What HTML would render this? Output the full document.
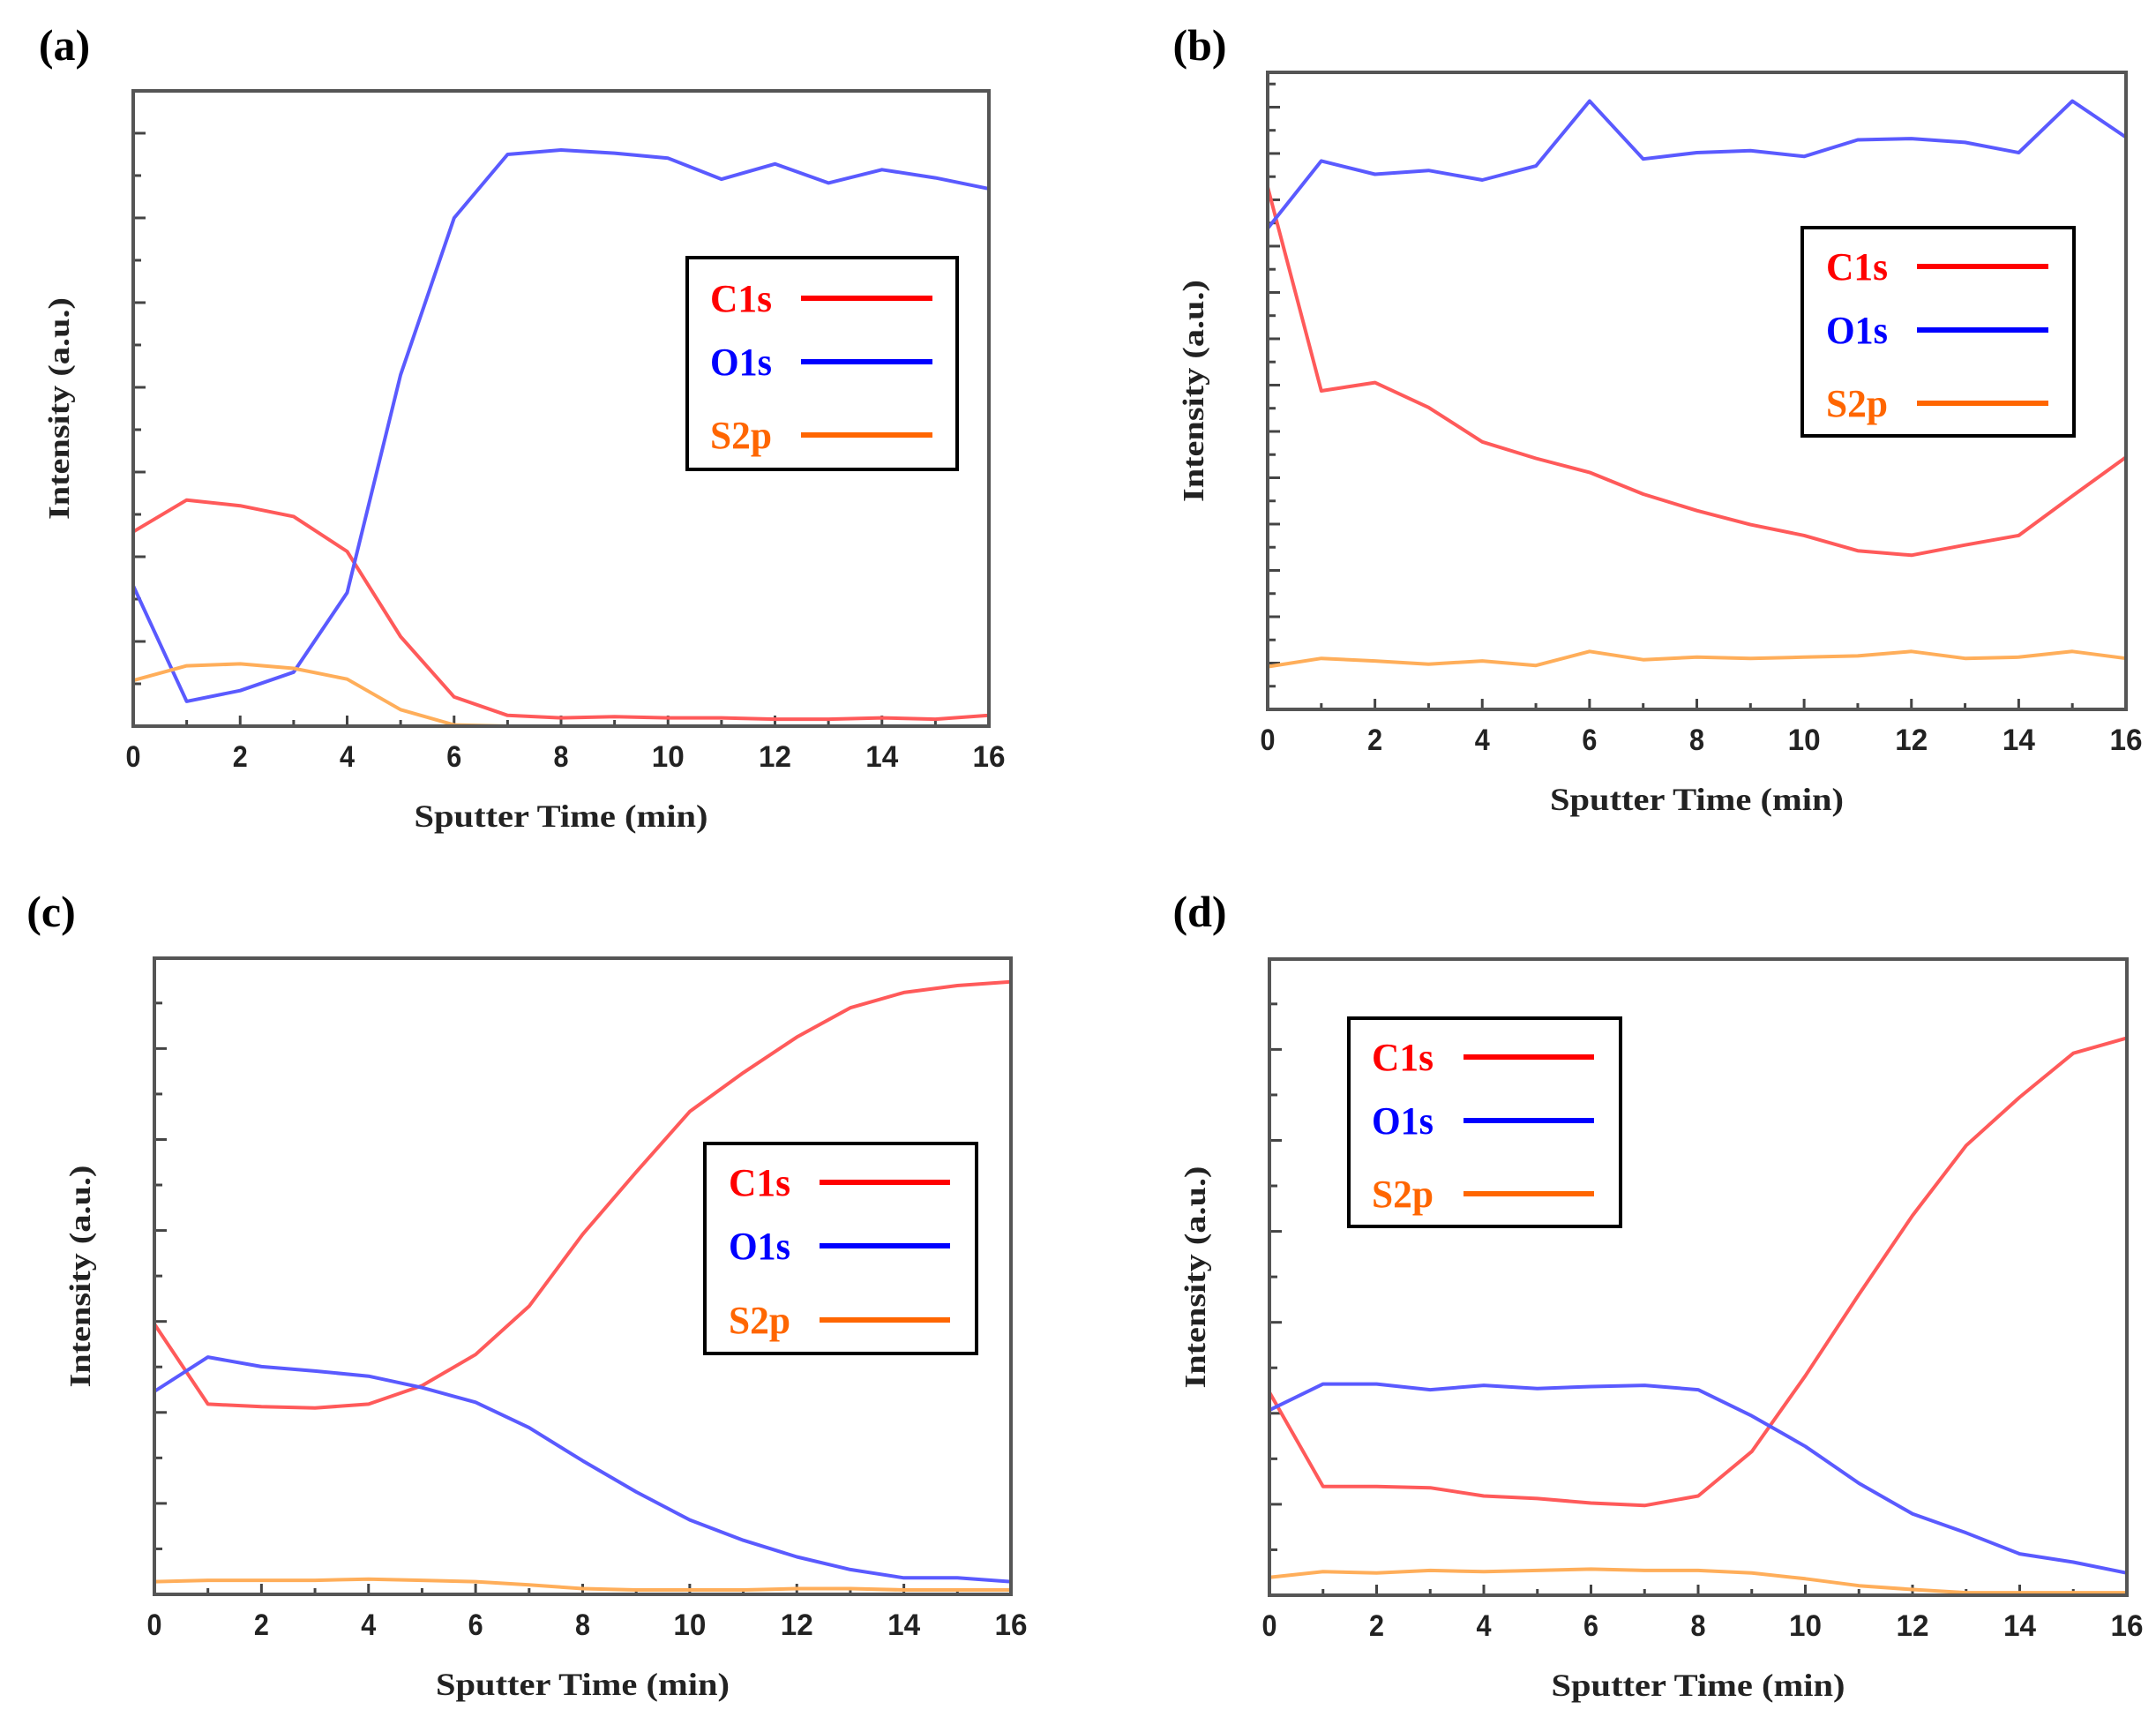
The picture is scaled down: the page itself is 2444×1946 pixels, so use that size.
<!DOCTYPE html>
<html><head><meta charset="utf-8"><style>
html,body{margin:0;padding:0;background:#fff;}
svg{display:block;}
</style></head><body>
<svg id="fig" width="2444" height="1946" viewBox="0 0 2444 1946" xmlns="http://www.w3.org/2000/svg"></svg>
<script>
const xTicks = [0,2,4,6,8,10,12,14,16];
const times = [0,1,2,3,4,5,6,7,8,9,10,11,12,13,14,15,16];
const seriesNames = ["C1s","O1s","S2p"];
// panel (a)
const aC1s = [30.6,35.6,34.7,33.0,27.5,14.1,4.6,1.7,1.3,1.5,1.3,1.3,1.1,1.1,1.3,1.1,1.7];
const aO1s = [22.1,3.9,5.6,8.5,21.0,55.3,80.0,90.0,90.7,90.2,89.4,86.1,88.5,85.5,87.6,86.3,84.6];
const aS2p = [7.2,9.5,9.8,9.1,7.4,2.6,0.2,0,0,0,0,0,0,0,0,0,0];
// panel (b)
const bC1s = [82.0,50.0,51.3,47.4,42.0,39.4,37.2,33.8,31.2,29.0,27.3,24.9,24.2,25.8,27.3,33.5,39.6];
const bO1s = [75.5,86.1,84.0,84.6,83.1,85.3,95.5,86.4,87.4,87.7,86.8,89.4,89.6,89.0,87.4,95.5,89.8];
const bS2p = [6.7,8.0,7.6,7.1,7.6,6.9,9.1,7.8,8.2,8.0,8.2,8.4,9.1,8.0,8.2,9.1,8.0];
// panel (c)
const cC1s = [42.5,29.9,29.5,29.3,29.9,32.8,37.7,45.3,56.6,66.4,75.9,82.0,87.6,92.2,94.6,95.7,96.3];
const cO1s = [31.9,37.3,35.8,35.1,34.3,32.5,30.2,26.2,21.0,16.1,11.7,8.5,5.9,3.9,2.6,2.6,2.0];
const cS2p = [2.0,2.2,2.2,2.2,2.4,2.2,2.0,1.5,0.9,0.7,0.7,0.7,0.9,0.9,0.7,0.7,0.7];
// panel (d)
const dC1s = [31.9,17.1,17.1,16.9,15.6,15.2,14.5,14.1,15.6,22.6,34.5,47.3,59.7,70.7,78.3,85.2,87.6];
const dO1s = [29.1,33.2,33.2,32.3,33.0,32.5,32.8,33.0,32.3,28.2,23.4,17.6,12.8,9.8,6.5,5.2,3.5];
const dS2p = [2.8,3.7,3.5,3.9,3.7,3.9,4.1,3.9,3.9,3.5,2.6,1.5,0.9,0.4,0.4,0.4,0.4];

const NS = "http://www.w3.org/2000/svg";
const svg = document.getElementById("fig");
function el(tag, attrs, parent){const e=document.createElementNS(NS,tag);for(const k in attrs)e.setAttribute(k,attrs[k]);(parent||svg).appendChild(e);return e;}

const lineColors = ["#ff5a5a","#5a5aff","#ffae5a"];
const legendColors = ["#ff0000","#0000ff","#ff6600"];

const panels = [
 {id:"a",label:"(a)",lx:73,ly:52,x0:151,x1:1121,y0:103,y1:823,step:6.667,data:[aC1s,aO1s,aS2p],
  leg:{x:779,y:292,w:306,h:240,rows:[338,410,493],tx:805,l0:908,l1:1057}},
 {id:"b",label:"(b)",lx:1360,ly:52,x0:1437,x1:2410,y0:82,y1:804,step:3.636,data:[bC1s,bO1s,bS2p],
  leg:{x:2043,y:258,w:308,h:236,rows:[302,374,457],tx:2070,l0:2173,l1:2322}},
 {id:"c",label:"(c)",lx:58,ly:1034,x0:175,x1:1146,y0:1086,y1:1807,step:7.15,data:[cC1s,cO1s,cS2p],
  leg:{x:799,y:1296,w:308,h:238,rows:[1340,1412,1496],tx:826,l0:929,l1:1077}},
 {id:"d",label:"(d)",lx:1360,ly:1034,x0:1439,x1:2411,y0:1087,y1:1808,step:7.15,data:[dC1s,dO1s,dS2p],
  leg:{x:1529,y:1154,w:308,h:236,rows:[1198,1270,1353],tx:1555,l0:1659,l1:1807}}
];

panels.forEach(p=>{
  const g = el("g",{});
  
  
  const xs = v => p.x0 + (v/16)*(p.x1-p.x0);
  const ys = v => p.y1 - (v/100)*(p.y1-p.y0);
  const pl = el("text",{x:p.lx,y:p.ly+16,"text-anchor":"middle","font-family":"Liberation Serif, serif","font-weight":"bold","font-size":50,fill:"#000"},g);
  pl.textContent = p.label;
  
  
  let k=1;
  while(k*p.step < 99){
    const yy = ys(k*p.step);
    const len = (k%2===0)?14:9;
    const t = el("line",{x1:p.x0,x2:p.x0+len,y1:yy,y2:yy,stroke:"#444","stroke-width":3},g);
    
    
    k++;
  }
  times.forEach(v=>{
    const xx = xs(v);
    const len = (v%2===0)?12:7;
    const t = el("line",{x1:xx,x2:xx,y1:p.y1,y2:p.y1-len,stroke:"#444","stroke-width":3},g);
    
    
  });
  xTicks.forEach(v=>{
    const s = String(v);
    const t = el("text",{x:xs(v),y:p.y1+46,"text-anchor":"middle","font-family":"Liberation Sans, sans-serif","font-weight":"bold","font-size":34,fill:"#222",textLength:17*s.length+(s.length-1)*3,lengthAdjust:"spacingAndGlyphs"},g);
    t.textContent = s;
    
    
  });
  const xt = el("text",{x:(p.x0+p.x1)/2,y:p.y1+114,"text-anchor":"middle","font-family":"Liberation Serif, serif","font-weight":"bold","font-size":36,fill:"#222",textLength:333,lengthAdjust:"spacingAndGlyphs"},g);
  xt.textContent = "Sputter Time (min)";
  
  
  const cy = (p.y0+p.y1)/2, cx = p.x0-84;
  const yt = el("text",{x:cx,y:cy+11,"text-anchor":"middle","font-family":"Liberation Serif, serif","font-weight":"bold","font-size":34,fill:"#222",transform:`rotate(-90 ${cx} ${cy})`,textLength:252,lengthAdjust:"spacingAndGlyphs"},g);
  yt.textContent = "Intensity (a.u.)";
  
  
  p.data.forEach((arr,si)=>{
    const pts = arr.map((v,i)=>xs(times[i]).toFixed(1)+","+ys(v).toFixed(1)).join(" ");
    const pl2 = el("polyline",{points:pts,fill:"none",stroke:lineColors[si],"stroke-width":4,"stroke-linejoin":"round"},g);
    
    
  });
  const fr = el("rect",{x:p.x0,y:p.y0,width:p.x1-p.x0,height:p.y1-p.y0,fill:"none",stroke:"#555","stroke-width":4},g);
  
  
  const L = p.leg;
  const lg = el("g",{},g);
  
  
  el("rect",{x:L.x,y:L.y,width:L.w,height:L.h,fill:"#fff",stroke:"#000","stroke-width":4},lg);
  seriesNames.forEach((n,si)=>{
    const tx = el("text",{x:L.tx,y:L.rows[si]+15,"font-family":"Liberation Serif, serif","font-weight":"bold","font-size":44,fill:legendColors[si],textLength:70,lengthAdjust:"spacingAndGlyphs"},lg);
    tx.textContent = n;
    
    
    const ln = el("line",{x1:L.l0,x2:L.l1,y1:L.rows[si],y2:L.rows[si],stroke:legendColors[si],"stroke-width":6},lg);
    
    
  });
});
</script>
</body></html>
